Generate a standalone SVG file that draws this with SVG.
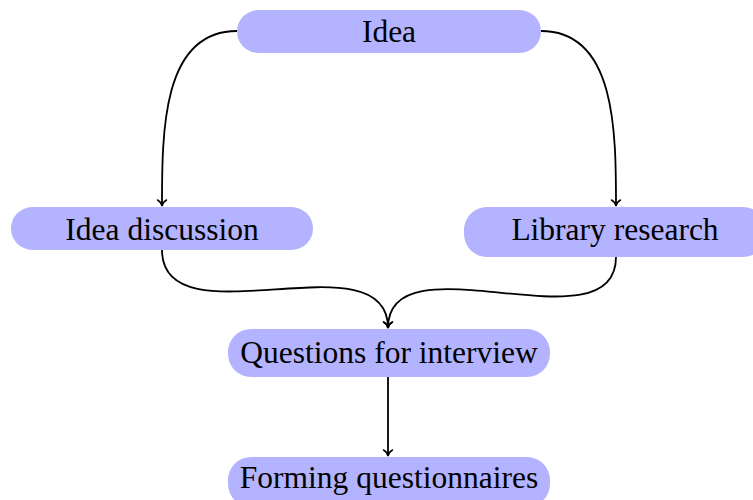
<svg xmlns="http://www.w3.org/2000/svg" width="753" height="500" viewBox="0 0 753 500">
  <style>
    .box { fill: #b3b3ff; stroke: none; }
    .lbl { font-family: "Liberation Serif", "Times New Roman", serif; font-size: 31.5px; fill: #000; text-anchor: middle; }
    .edge { fill: none; stroke: #000; stroke-width: 1.8; }
  </style>
  <defs>
    <marker id="tip" markerWidth="12" markerHeight="12" refX="9" refY="6" orient="auto" markerUnits="userSpaceOnUse">
      <path d="M3,1.5 Q5,5.2 9,6 Q5,6.8 3,10.5" fill="none" stroke="#000" stroke-width="1.5" stroke-linecap="round"/>
    </marker>
  </defs>

  <g id="connectors">
    <path class="edge" d="M237,31 C162,31 162,132 162,206" marker-end="url(#tip)"/>
    <path class="edge" d="M541,31 C616,31 616,132 616,206" marker-end="url(#tip)"/>
    <path class="edge" d="M162,250 C162,344 388,235 388,328" marker-end="url(#tip)"/>
    <path class="edge" d="M616,257 C616,351 388,235 388,328" marker-end="url(#tip)"/>
    <path class="edge" d="M388,377 L388,456" marker-end="url(#tip)"/>
  </g>

  <g id="idea">
    <rect class="box" x="237" y="10" width="304" height="43" rx="21.5"/>
    <text class="lbl" x="389" y="42">Idea</text>
  </g>
  <g id="idea-discussion">
    <rect class="box" x="11" y="207" width="302" height="43" rx="21.5"/>
    <text class="lbl" x="162" y="240">Idea discussion</text>
  </g>
  <g id="library-research">
    <rect class="box" x="464" y="207" width="302" height="50" rx="23"/>
    <text class="lbl" x="615" y="240">Library research</text>
  </g>
  <g id="questions">
    <rect class="box" x="228" y="329" width="322" height="48" rx="23"/>
    <text class="lbl" x="389" y="363">Questions for interview</text>
  </g>
  <g id="forming">
    <rect class="box" x="228" y="457" width="322" height="50" rx="23"/>
    <text class="lbl" x="389" y="488">Forming questionnaires</text>
  </g>
</svg>
